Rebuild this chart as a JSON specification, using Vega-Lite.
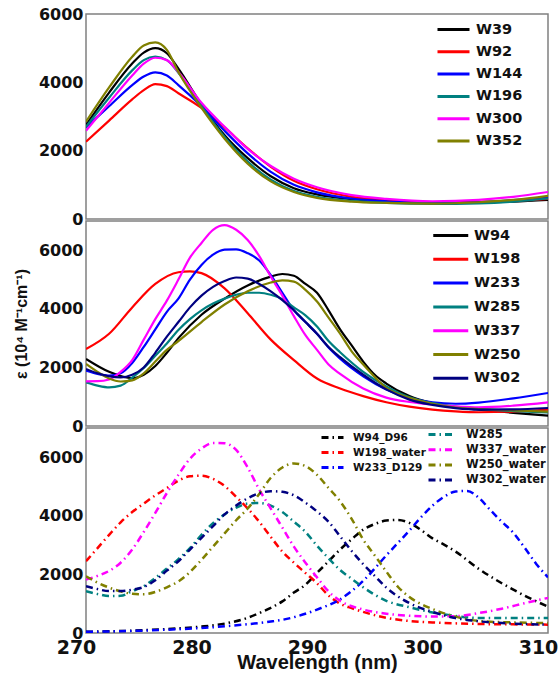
{
  "$schema": "https://vega.github.io/schema/vega-lite/v6.json",
  "padding": {"left": 12, "top": 5, "right": 5, "bottom": 5},
  "bounds": "flush",
  "spacing": 2,
  "resolve": {"scale": {"color": "independent"}, "legend": {"color": "independent"}},
  "config": {
    "view": {"stroke": "#808080", "strokeWidth": 1.5},
    "axis": {"labelFont": "DejaVu Sans", "labelFontWeight": "bold", "labelFontSize": 16, "labelColor": "#111", "ticks": false, "domain": false, "grid": false, "labelPadding": 3, "labelFlush": false, "titleFont": "Liberation Sans", "titleColor": "#111", "format": "d"},
    "legend": {"labelFont": "DejaVu Sans", "labelFontWeight": "bold", "labelColor": "#111", "symbolType": "M-3,0H1", "padding": 0, "title": null}
  },
  "datasets": {
    "p1": [
      {"s":"W39","wl":270,"v":2750},{"s":"W39","wl":272,"v":3700},{"s":"W39","wl":274,"v":4550},{"s":"W39","wl":275,"v":4870},{"s":"W39","wl":276,"v":5000},{"s":"W39","wl":277,"v":4850},{"s":"W39","wl":278,"v":4400},{"s":"W39","wl":280,"v":3350},{"s":"W39","wl":282,"v":2450},{"s":"W39","wl":284,"v":1780},{"s":"W39","wl":286,"v":1250},{"s":"W39","wl":288,"v":900},{"s":"W39","wl":290,"v":720},{"s":"W39","wl":293,"v":580},{"s":"W39","wl":296,"v":510},{"s":"W39","wl":300,"v":470},{"s":"W39","wl":304,"v":485},{"s":"W39","wl":307,"v":510},{"s":"W39","wl":310,"v":560},
      {"s":"W92","wl":270,"v":2260},{"s":"W92","wl":272,"v":2880},{"s":"W92","wl":274,"v":3500},{"s":"W92","wl":275,"v":3770},{"s":"W92","wl":276,"v":3950},{"s":"W92","wl":277,"v":3890},{"s":"W92","wl":278,"v":3680},{"s":"W92","wl":280,"v":3250},{"s":"W92","wl":282,"v":2680},{"s":"W92","wl":284,"v":2070},{"s":"W92","wl":286,"v":1530},{"s":"W92","wl":288,"v":1120},{"s":"W92","wl":290,"v":870},{"s":"W92","wl":293,"v":650},{"s":"W92","wl":296,"v":550},{"s":"W92","wl":300,"v":490},{"s":"W92","wl":304,"v":500},{"s":"W92","wl":307,"v":530},{"s":"W92","wl":310,"v":585},
      {"s":"W144","wl":270,"v":2680},{"s":"W144","wl":272,"v":3300},{"s":"W144","wl":274,"v":3920},{"s":"W144","wl":275,"v":4170},{"s":"W144","wl":276,"v":4290},{"s":"W144","wl":277,"v":4200},{"s":"W144","wl":278,"v":3920},{"s":"W144","wl":280,"v":3300},{"s":"W144","wl":282,"v":2580},{"s":"W144","wl":284,"v":1920},{"s":"W144","wl":286,"v":1380},{"s":"W144","wl":288,"v":1000},{"s":"W144","wl":290,"v":780},{"s":"W144","wl":293,"v":600},{"s":"W144","wl":296,"v":520},{"s":"W144","wl":300,"v":470},{"s":"W144","wl":304,"v":490},{"s":"W144","wl":307,"v":550},{"s":"W144","wl":310,"v":640},
      {"s":"W196","wl":270,"v":2700},{"s":"W196","wl":272,"v":3550},{"s":"W196","wl":274,"v":4350},{"s":"W196","wl":275,"v":4650},{"s":"W196","wl":276,"v":4750},{"s":"W196","wl":277,"v":4650},{"s":"W196","wl":278,"v":4280},{"s":"W196","wl":280,"v":3300},{"s":"W196","wl":282,"v":2400},{"s":"W196","wl":284,"v":1680},{"s":"W196","wl":286,"v":1150},{"s":"W196","wl":288,"v":820},{"s":"W196","wl":290,"v":650},{"s":"W196","wl":293,"v":530},{"s":"W196","wl":296,"v":470},{"s":"W196","wl":300,"v":440},{"s":"W196","wl":304,"v":460},{"s":"W196","wl":307,"v":510},{"s":"W196","wl":310,"v":600},
      {"s":"W300","wl":270,"v":2580},{"s":"W300","wl":272,"v":3400},{"s":"W300","wl":274,"v":4200},{"s":"W300","wl":275,"v":4550},{"s":"W300","wl":276,"v":4720},{"s":"W300","wl":277,"v":4650},{"s":"W300","wl":278,"v":4300},{"s":"W300","wl":280,"v":3400},{"s":"W300","wl":282,"v":2700},{"s":"W300","wl":284,"v":2050},{"s":"W300","wl":286,"v":1550},{"s":"W300","wl":288,"v":1180},{"s":"W300","wl":290,"v":930},{"s":"W300","wl":293,"v":700},{"s":"W300","wl":296,"v":590},{"s":"W300","wl":300,"v":520},{"s":"W300","wl":304,"v":560},{"s":"W300","wl":307,"v":650},{"s":"W300","wl":310,"v":790},
      {"s":"W352","wl":270,"v":2850},{"s":"W352","wl":272,"v":3850},{"s":"W352","wl":274,"v":4750},{"s":"W352","wl":275,"v":5080},{"s":"W352","wl":276,"v":5170},{"s":"W352","wl":277,"v":4950},{"s":"W352","wl":278,"v":4300},{"s":"W352","wl":280,"v":3250},{"s":"W352","wl":282,"v":2350},{"s":"W352","wl":284,"v":1620},{"s":"W352","wl":286,"v":1100},{"s":"W352","wl":288,"v":790},{"s":"W352","wl":290,"v":620},{"s":"W352","wl":293,"v":510},{"s":"W352","wl":296,"v":470},{"s":"W352","wl":300,"v":450},{"s":"W352","wl":304,"v":490},{"s":"W352","wl":307,"v":560},{"s":"W352","wl":310,"v":680}
    ],
    "p2": [
      {"s":"W94","wl":270,"v":2290},{"s":"W94","wl":272,"v":1850},{"s":"W94","wl":274,"v":1630},{"s":"W94","wl":275,"v":1750},{"s":"W94","wl":276,"v":2050},{"s":"W94","wl":277,"v":2500},{"s":"W94","wl":278,"v":3000},{"s":"W94","wl":280,"v":3800},{"s":"W94","wl":282,"v":4350},{"s":"W94","wl":284,"v":4800},{"s":"W94","wl":286,"v":5100},{"s":"W94","wl":287,"v":5190},{"s":"W94","wl":288,"v":5130},{"s":"W94","wl":289,"v":4850},{"s":"W94","wl":290,"v":4550},{"s":"W94","wl":291,"v":3950},{"s":"W94","wl":292,"v":3300},{"s":"W94","wl":293,"v":2750},{"s":"W94","wl":294,"v":2200},{"s":"W94","wl":295,"v":1750},{"s":"W94","wl":296,"v":1450},{"s":"W94","wl":298,"v":1020},{"s":"W94","wl":300,"v":780},{"s":"W94","wl":302,"v":640},{"s":"W94","wl":304,"v":560},{"s":"W94","wl":307,"v":450},{"s":"W94","wl":310,"v":353},
      {"s":"W198","wl":270,"v":2630},{"s":"W198","wl":272,"v":3150},{"s":"W198","wl":274,"v":4050},{"s":"W198","wl":276,"v":4850},{"s":"W198","wl":278,"v":5250},{"s":"W198","wl":279,"v":5280},{"s":"W198","wl":280,"v":5220},{"s":"W198","wl":282,"v":4700},{"s":"W198","wl":284,"v":3850},{"s":"W198","wl":286,"v":2950},{"s":"W198","wl":288,"v":2250},{"s":"W198","wl":290,"v":1620},{"s":"W198","wl":292,"v":1280},{"s":"W198","wl":294,"v":1020},{"s":"W198","wl":296,"v":810},{"s":"W198","wl":298,"v":660},{"s":"W198","wl":300,"v":560},{"s":"W198","wl":302,"v":500},{"s":"W198","wl":304,"v":470},{"s":"W198","wl":307,"v":490},{"s":"W198","wl":310,"v":558},
      {"s":"W233","wl":270,"v":1890},{"s":"W233","wl":271,"v":1780},{"s":"W233","wl":272,"v":1720},{"s":"W233","wl":273,"v":1800},{"s":"W233","wl":274,"v":2150},{"s":"W233","wl":275,"v":2700},{"s":"W233","wl":276,"v":3300},{"s":"W233","wl":277,"v":3900},{"s":"W233","wl":278,"v":4350},{"s":"W233","wl":279,"v":5000},{"s":"W233","wl":280,"v":5500},{"s":"W233","wl":281,"v":5850},{"s":"W233","wl":282,"v":6020},{"s":"W233","wl":283,"v":6030},{"s":"W233","wl":284,"v":5900},{"s":"W233","wl":285,"v":5650},{"s":"W233","wl":286,"v":5150},{"s":"W233","wl":287,"v":4550},{"s":"W233","wl":288,"v":3950},{"s":"W233","wl":289,"v":3550},{"s":"W233","wl":290,"v":3150},{"s":"W233","wl":291,"v":2680},{"s":"W233","wl":292,"v":2300},{"s":"W233","wl":294,"v":1700},{"s":"W233","wl":296,"v":1250},{"s":"W233","wl":298,"v":960},{"s":"W233","wl":300,"v":810},{"s":"W233","wl":302,"v":760},{"s":"W233","wl":304,"v":800},{"s":"W233","wl":307,"v":945},{"s":"W233","wl":310,"v":1127},
      {"s":"W285","wl":270,"v":1490},{"s":"W285","wl":271,"v":1380},{"s":"W285","wl":272,"v":1320},{"s":"W285","wl":273,"v":1380},{"s":"W285","wl":274,"v":1650},{"s":"W285","wl":275,"v":1980},{"s":"W285","wl":276,"v":2400},{"s":"W285","wl":277,"v":2820},{"s":"W285","wl":278,"v":3280},{"s":"W285","wl":279,"v":3650},{"s":"W285","wl":280,"v":3950},{"s":"W285","wl":281,"v":4180},{"s":"W285","wl":282,"v":4350},{"s":"W285","wl":283,"v":4480},{"s":"W285","wl":284,"v":4550},{"s":"W285","wl":285,"v":4550},{"s":"W285","wl":286,"v":4480},{"s":"W285","wl":287,"v":4330},{"s":"W285","wl":288,"v":4050},{"s":"W285","wl":289,"v":3780},{"s":"W285","wl":290,"v":3400},{"s":"W285","wl":291,"v":2900},{"s":"W285","wl":292,"v":2520},{"s":"W285","wl":294,"v":1850},{"s":"W285","wl":296,"v":1350},{"s":"W285","wl":298,"v":980},{"s":"W285","wl":300,"v":780},{"s":"W285","wl":302,"v":660},{"s":"W285","wl":304,"v":580},{"s":"W285","wl":307,"v":510},{"s":"W285","wl":310,"v":467},
      {"s":"W337","wl":270,"v":1525},{"s":"W337","wl":271,"v":1530},{"s":"W337","wl":272,"v":1590},{"s":"W337","wl":273,"v":1850},{"s":"W337","wl":274,"v":2250},{"s":"W337","wl":275,"v":2950},{"s":"W337","wl":276,"v":3650},{"s":"W337","wl":277,"v":4280},{"s":"W337","wl":278,"v":5000},{"s":"W337","wl":279,"v":5750},{"s":"W337","wl":280,"v":6250},{"s":"W337","wl":281,"v":6700},{"s":"W337","wl":282,"v":6860},{"s":"W337","wl":283,"v":6700},{"s":"W337","wl":284,"v":6350},{"s":"W337","wl":285,"v":5800},{"s":"W337","wl":286,"v":5100},{"s":"W337","wl":287,"v":4450},{"s":"W337","wl":288,"v":3750},{"s":"W337","wl":289,"v":3100},{"s":"W337","wl":290,"v":2600},{"s":"W337","wl":291,"v":2100},{"s":"W337","wl":292,"v":1780},{"s":"W337","wl":294,"v":1280},{"s":"W337","wl":296,"v":970},{"s":"W337","wl":298,"v":820},{"s":"W337","wl":300,"v":730},{"s":"W337","wl":302,"v":670},{"s":"W337","wl":304,"v":637},{"s":"W337","wl":307,"v":695},{"s":"W337","wl":310,"v":808},
      {"s":"W250","wl":270,"v":2120},{"s":"W250","wl":271,"v":1850},{"s":"W250","wl":272,"v":1620},{"s":"W250","wl":273,"v":1520},{"s":"W250","wl":274,"v":1560},{"s":"W250","wl":275,"v":1800},{"s":"W250","wl":276,"v":2200},{"s":"W250","wl":277,"v":2600},{"s":"W250","wl":278,"v":2900},{"s":"W250","wl":280,"v":3550},{"s":"W250","wl":282,"v":4150},{"s":"W250","wl":284,"v":4600},{"s":"W250","wl":286,"v":4900},{"s":"W250","wl":287,"v":4970},{"s":"W250","wl":288,"v":4930},{"s":"W250","wl":289,"v":4650},{"s":"W250","wl":290,"v":4250},{"s":"W250","wl":291,"v":3700},{"s":"W250","wl":292,"v":3150},{"s":"W250","wl":293,"v":2550},{"s":"W250","wl":294,"v":2100},{"s":"W250","wl":296,"v":1300},{"s":"W250","wl":298,"v":960},{"s":"W250","wl":300,"v":760},{"s":"W250","wl":302,"v":630},{"s":"W250","wl":304,"v":580},{"s":"W250","wl":307,"v":530},{"s":"W250","wl":310,"v":490},
      {"s":"W302","wl":270,"v":1950},{"s":"W302","wl":271,"v":1800},{"s":"W302","wl":272,"v":1700},{"s":"W302","wl":273,"v":1660},{"s":"W302","wl":274,"v":1750},{"s":"W302","wl":275,"v":2000},{"s":"W302","wl":276,"v":2500},{"s":"W302","wl":277,"v":3050},{"s":"W302","wl":278,"v":3550},{"s":"W302","wl":279,"v":4050},{"s":"W302","wl":280,"v":4450},{"s":"W302","wl":281,"v":4750},{"s":"W302","wl":282,"v":4950},{"s":"W302","wl":283,"v":5070},{"s":"W302","wl":284,"v":5030},{"s":"W302","wl":285,"v":4850},{"s":"W302","wl":286,"v":4600},{"s":"W302","wl":287,"v":4300},{"s":"W302","wl":288,"v":3950},{"s":"W302","wl":289,"v":3550},{"s":"W302","wl":290,"v":3150},{"s":"W302","wl":291,"v":2700},{"s":"W302","wl":292,"v":2350},{"s":"W302","wl":294,"v":1750},{"s":"W302","wl":296,"v":1250},{"s":"W302","wl":298,"v":900},{"s":"W302","wl":300,"v":720},{"s":"W302","wl":302,"v":610},{"s":"W302","wl":304,"v":560},{"s":"W302","wl":307,"v":570},{"s":"W302","wl":310,"v":615}
    ],
    "p3a": [
      {"s":"W94_D96","wl":270,"v":40},{"s":"W94_D96","wl":274,"v":80},{"s":"W94_D96","wl":278,"v":160},{"s":"W94_D96","wl":280,"v":220},{"s":"W94_D96","wl":282,"v":320},{"s":"W94_D96","wl":284,"v":520},{"s":"W94_D96","wl":285,"v":680},{"s":"W94_D96","wl":286,"v":860},{"s":"W94_D96","wl":287,"v":1080},{"s":"W94_D96","wl":288,"v":1380},{"s":"W94_D96","wl":289,"v":1650},{"s":"W94_D96","wl":290,"v":2050},{"s":"W94_D96","wl":291,"v":2450},{"s":"W94_D96","wl":292,"v":2850},{"s":"W94_D96","wl":293,"v":3200},{"s":"W94_D96","wl":294,"v":3530},{"s":"W94_D96","wl":295,"v":3720},{"s":"W94_D96","wl":296,"v":3840},{"s":"W94_D96","wl":297,"v":3860},{"s":"W94_D96","wl":298,"v":3760},{"s":"W94_D96","wl":299,"v":3520},{"s":"W94_D96","wl":300,"v":3230},{"s":"W94_D96","wl":301,"v":3020},{"s":"W94_D96","wl":302,"v":2780},{"s":"W94_D96","wl":304,"v":2190},{"s":"W94_D96","wl":306,"v":1700},{"s":"W94_D96","wl":307,"v":1480},{"s":"W94_D96","wl":308,"v":1270},{"s":"W94_D96","wl":309,"v":1080},{"s":"W94_D96","wl":310,"v":900},
      {"s":"W198_water","wl":270,"v":2450},{"s":"W198_water","wl":271,"v":2900},{"s":"W198_water","wl":272,"v":3350},{"s":"W198_water","wl":273,"v":3780},{"s":"W198_water","wl":274,"v":4130},{"s":"W198_water","wl":275,"v":4420},{"s":"W198_water","wl":276,"v":4700},{"s":"W198_water","wl":277,"v":4950},{"s":"W198_water","wl":278,"v":5200},{"s":"W198_water","wl":279,"v":5350},{"s":"W198_water","wl":280,"v":5370},{"s":"W198_water","wl":281,"v":5260},{"s":"W198_water","wl":282,"v":5020},{"s":"W198_water","wl":283,"v":4650},{"s":"W198_water","wl":284,"v":4250},{"s":"W198_water","wl":285,"v":3800},{"s":"W198_water","wl":286,"v":3280},{"s":"W198_water","wl":287,"v":2780},{"s":"W198_water","wl":288,"v":2400},{"s":"W198_water","wl":289,"v":2050},{"s":"W198_water","wl":290,"v":1700},{"s":"W198_water","wl":291,"v":1280},{"s":"W198_water","wl":292,"v":1000},{"s":"W198_water","wl":293,"v":850},{"s":"W198_water","wl":294,"v":720},{"s":"W198_water","wl":296,"v":520},{"s":"W198_water","wl":298,"v":410},{"s":"W198_water","wl":300,"v":360},{"s":"W198_water","wl":302,"v":330},{"s":"W198_water","wl":304,"v":308},{"s":"W198_water","wl":307,"v":295},{"s":"W198_water","wl":310,"v":285},
      {"s":"W233_D129","wl":270,"v":40},{"s":"W233_D129","wl":274,"v":70},{"s":"W233_D129","wl":278,"v":130},{"s":"W233_D129","wl":280,"v":170},{"s":"W233_D129","wl":282,"v":230},{"s":"W233_D129","wl":284,"v":300},{"s":"W233_D129","wl":286,"v":390},{"s":"W233_D129","wl":287,"v":450},{"s":"W233_D129","wl":288,"v":540},{"s":"W233_D129","wl":290,"v":800},{"s":"W233_D129","wl":292,"v":1150},{"s":"W233_D129","wl":294,"v":1780},{"s":"W233_D129","wl":296,"v":2650},{"s":"W233_D129","wl":298,"v":3500},{"s":"W233_D129","wl":299,"v":3950},{"s":"W233_D129","wl":300,"v":4350},{"s":"W233_D129","wl":301,"v":4650},{"s":"W233_D129","wl":302,"v":4830},{"s":"W233_D129","wl":303,"v":4850},{"s":"W233_D129","wl":304,"v":4620},{"s":"W233_D129","wl":305,"v":4200},{"s":"W233_D129","wl":306,"v":3800},{"s":"W233_D129","wl":307,"v":3420},{"s":"W233_D129","wl":308,"v":2900},{"s":"W233_D129","wl":309,"v":2350},{"s":"W233_D129","wl":310,"v":1900}
    ],
    "p3b": [
      {"s":"W285","wl":270,"v":1425},{"s":"W285","wl":271,"v":1330},{"s":"W285","wl":272,"v":1260},{"s":"W285","wl":273,"v":1270},{"s":"W285","wl":274,"v":1430},{"s":"W285","wl":275,"v":1600},{"s":"W285","wl":276,"v":1880},{"s":"W285","wl":277,"v":2200},{"s":"W285","wl":278,"v":2520},{"s":"W285","wl":279,"v":2900},{"s":"W285","wl":280,"v":3350},{"s":"W285","wl":281,"v":3750},{"s":"W285","wl":282,"v":4050},{"s":"W285","wl":283,"v":4280},{"s":"W285","wl":284,"v":4420},{"s":"W285","wl":285,"v":4440},{"s":"W285","wl":286,"v":4350},{"s":"W285","wl":287,"v":4130},{"s":"W285","wl":288,"v":3800},{"s":"W285","wl":289,"v":3450},{"s":"W285","wl":290,"v":2980},{"s":"W285","wl":291,"v":2550},{"s":"W285","wl":292,"v":2150},{"s":"W285","wl":293,"v":1850},{"s":"W285","wl":294,"v":1560},{"s":"W285","wl":296,"v":1100},{"s":"W285","wl":298,"v":880},{"s":"W285","wl":300,"v":700},{"s":"W285","wl":302,"v":580},{"s":"W285","wl":304,"v":515},{"s":"W285","wl":307,"v":510},{"s":"W285","wl":310,"v":510},
      {"s":"W337_water","wl":270,"v":1823},{"s":"W337_water","wl":271,"v":1950},{"s":"W337_water","wl":272,"v":2120},{"s":"W337_water","wl":273,"v":2400},{"s":"W337_water","wl":274,"v":2850},{"s":"W337_water","wl":275,"v":3450},{"s":"W337_water","wl":276,"v":4100},{"s":"W337_water","wl":277,"v":4780},{"s":"W337_water","wl":278,"v":5400},{"s":"W337_water","wl":279,"v":5950},{"s":"W337_water","wl":280,"v":6300},{"s":"W337_water","wl":281,"v":6490},{"s":"W337_water","wl":282,"v":6480},{"s":"W337_water","wl":283,"v":6250},{"s":"W337_water","wl":284,"v":5650},{"s":"W337_water","wl":285,"v":4900},{"s":"W337_water","wl":286,"v":4250},{"s":"W337_water","wl":287,"v":3600},{"s":"W337_water","wl":288,"v":2950},{"s":"W337_water","wl":289,"v":2400},{"s":"W337_water","wl":290,"v":1900},{"s":"W337_water","wl":291,"v":1420},{"s":"W337_water","wl":292,"v":1100},{"s":"W337_water","wl":294,"v":800},{"s":"W337_water","wl":296,"v":660},{"s":"W337_water","wl":298,"v":590},{"s":"W337_water","wl":300,"v":565},{"s":"W337_water","wl":302,"v":575},{"s":"W337_water","wl":304,"v":680},{"s":"W337_water","wl":306,"v":830},{"s":"W337_water","wl":308,"v":1020},{"s":"W337_water","wl":310,"v":1200},
      {"s":"W250_water","wl":270,"v":1940},{"s":"W250_water","wl":271,"v":1720},{"s":"W250_water","wl":272,"v":1550},{"s":"W250_water","wl":273,"v":1420},{"s":"W250_water","wl":274,"v":1340},{"s":"W250_water","wl":275,"v":1320},{"s":"W250_water","wl":276,"v":1400},{"s":"W250_water","wl":277,"v":1560},{"s":"W250_water","wl":278,"v":1760},{"s":"W250_water","wl":279,"v":2080},{"s":"W250_water","wl":280,"v":2500},{"s":"W250_water","wl":281,"v":2950},{"s":"W250_water","wl":282,"v":3400},{"s":"W250_water","wl":283,"v":3850},{"s":"W250_water","wl":284,"v":4250},{"s":"W250_water","wl":285,"v":4750},{"s":"W250_water","wl":286,"v":5300},{"s":"W250_water","wl":287,"v":5650},{"s":"W250_water","wl":288,"v":5790},{"s":"W250_water","wl":289,"v":5700},{"s":"W250_water","wl":290,"v":5400},{"s":"W250_water","wl":291,"v":4950},{"s":"W250_water","wl":292,"v":4500},{"s":"W250_water","wl":293,"v":3900},{"s":"W250_water","wl":294,"v":3190},{"s":"W250_water","wl":295,"v":2650},{"s":"W250_water","wl":296,"v":2100},{"s":"W250_water","wl":297,"v":1580},{"s":"W250_water","wl":298,"v":1230},{"s":"W250_water","wl":300,"v":820},{"s":"W250_water","wl":302,"v":560},{"s":"W250_water","wl":304,"v":410},{"s":"W250_water","wl":307,"v":360},{"s":"W250_water","wl":310,"v":340},
      {"s":"W302_water","wl":270,"v":1600},{"s":"W302_water","wl":271,"v":1500},{"s":"W302_water","wl":272,"v":1430},{"s":"W302_water","wl":273,"v":1430},{"s":"W302_water","wl":274,"v":1480},{"s":"W302_water","wl":275,"v":1570},{"s":"W302_water","wl":276,"v":1800},{"s":"W302_water","wl":277,"v":2130},{"s":"W302_water","wl":278,"v":2450},{"s":"W302_water","wl":279,"v":2850},{"s":"W302_water","wl":280,"v":3250},{"s":"W302_water","wl":281,"v":3650},{"s":"W302_water","wl":282,"v":4050},{"s":"W302_water","wl":283,"v":4350},{"s":"W302_water","wl":284,"v":4600},{"s":"W302_water","wl":285,"v":4770},{"s":"W302_water","wl":286,"v":4840},{"s":"W302_water","wl":287,"v":4820},{"s":"W302_water","wl":288,"v":4700},{"s":"W302_water","wl":289,"v":4450},{"s":"W302_water","wl":290,"v":4150},{"s":"W302_water","wl":291,"v":3800},{"s":"W302_water","wl":292,"v":3300},{"s":"W302_water","wl":293,"v":2800},{"s":"W302_water","wl":294,"v":2350},{"s":"W302_water","wl":295,"v":1950},{"s":"W302_water","wl":296,"v":1550},{"s":"W302_water","wl":298,"v":1020},{"s":"W302_water","wl":300,"v":720},{"s":"W302_water","wl":302,"v":510},{"s":"W302_water","wl":304,"v":400},{"s":"W302_water","wl":307,"v":320},{"s":"W302_water","wl":310,"v":285}
    ]
  },
  "vconcat": [
    {
      "width": 462, "height": 205,
      "data": {"name": "p1"},
      "mark": {"type": "line", "interpolate": "monotone", "strokeWidth": 2.2, "clip": true},
      "encoding": {
        "x": {"field": "wl", "type": "quantitative", "scale": {"domain": [270, 310], "nice": false}, "axis": null},
        "y": {"field": "v", "type": "quantitative", "scale": {"domain": [0, 6000], "nice": false}, "axis": {"values": [0, 2000, 4000, 6000], "title": null}},
        "color": {"field": "s", "type": "nominal",
          "scale": {"domain": ["W39", "W92", "W144", "W196", "W300", "W352"], "range": ["#000000", "#ff0000", "#0000ff", "#008080", "#ff00ff", "#808000"]},
          "legend": {"orient": "none", "legendX": 366, "legendY": 6, "labelFontSize": 14.5, "symbolSize": 256, "symbolStrokeWidth": 3, "rowPadding": 6.3, "labelOffset": 5}}
      }
    },
    {
      "width": 462, "height": 205,
      "data": {"name": "p2"},
      "mark": {"type": "line", "interpolate": "monotone", "strokeWidth": 2.2, "clip": true},
      "encoding": {
        "x": {"field": "wl", "type": "quantitative", "scale": {"domain": [270, 310], "nice": false}, "axis": null},
        "y": {"field": "v", "type": "quantitative", "scale": {"domain": [0, 7000], "nice": false}, "axis": {"values": [0, 2000, 4000, 6000], "title": "ε (10⁴ M⁻¹cm⁻¹)", "titleFontSize": 16, "titleFontWeight": "bold", "titlePadding": 9}},
        "color": {"field": "s", "type": "nominal",
          "scale": {"domain": ["W94", "W198", "W233", "W285", "W337", "W250", "W302"], "range": ["#000000", "#ff0000", "#0000ff", "#008080", "#ff00ff", "#808000", "#000080"]},
          "legend": {"orient": "none", "legendX": 363, "legendY": 4, "labelFontSize": 14.5, "symbolSize": 306, "symbolStrokeWidth": 3, "rowPadding": 6.8, "labelOffset": 4}}
      }
    },
    {
      "width": 462, "height": 205,
      "layer": [
        {
          "data": {"name": "p3a"},
          "mark": {"type": "line", "interpolate": "monotone", "strokeWidth": 2.5, "strokeDash": [7, 4, 1.5, 4], "clip": true},
          "encoding": {
            "x": {"field": "wl", "type": "quantitative", "scale": {"domain": [270, 310], "nice": false}, "axis": {"values": [270, 280, 290, 300, 310], "labelOffset": -10, "labelFontSize": 19, "labelPadding": 5, "title": "Wavelength (nm)", "titleFontSize": 20, "titleFontWeight": "bold", "titlePadding": -5}},
            "y": {"field": "v", "type": "quantitative", "scale": {"domain": [0, 7000], "nice": false}, "axis": {"values": [0, 2000, 4000, 6000], "title": null}},
            "color": {"field": "s", "type": "nominal",
              "scale": {"domain": ["W94_D96", "W198_water", "W233_D129"], "range": ["#000000", "#ff0000", "#0000ff"]},
              "legend": {"orient": "none", "legendX": 245, "legendY": 2.5, "labelFontSize": 10.5, "symbolSize": 121, "symbolStrokeWidth": 3, "symbolDash": [7, 4, 1.5, 4], "rowPadding": 2, "labelOffset": 8}}
          }
        },
        {
          "data": {"name": "p3b"},
          "mark": {"type": "line", "interpolate": "monotone", "strokeWidth": 2.5, "strokeDash": [7, 4, 1.5, 4], "clip": true},
          "encoding": {
            "x": {"field": "wl", "type": "quantitative"},
            "y": {"field": "v", "type": "quantitative"},
            "color": {"field": "s", "type": "nominal",
              "scale": {"domain": ["W285", "W337_water", "W250_water", "W302_water"], "range": ["#008080", "#ff00ff", "#808000", "#000080"]},
              "legend": {"orient": "none", "legendX": 354, "legendY": -1.5, "labelFontSize": 11.5, "symbolSize": 169, "symbolStrokeWidth": 3, "symbolDash": [7, 4, 1.5, 4], "rowPadding": 1.2, "labelOffset": 10}}
          }
        }
      ],
      "resolve": {"scale": {"color": "independent"}, "legend": {"color": "independent"}}
    }
  ]
}
